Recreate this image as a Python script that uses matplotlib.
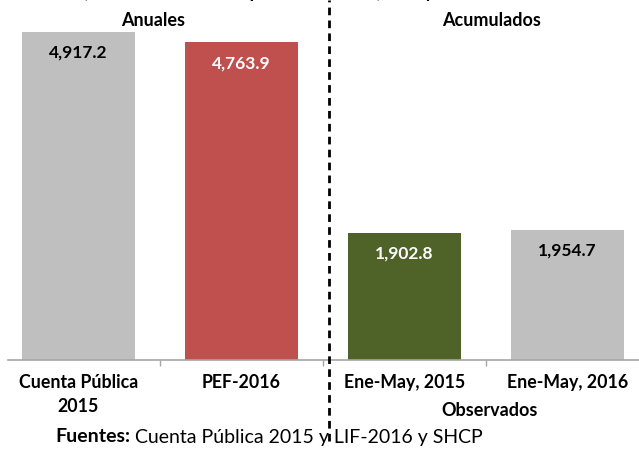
import matplotlib
matplotlib.use("Agg")
import matplotlib.pyplot as plt

plt.rcParams['font.family'] = ['Lato', 'DejaVu Sans']
plt.rcParams['lines.scale_dashes'] = False

categorias = ["Cuenta Pública\n2015", "PEF-2016", "Ene-May, 2015", "Ene-May, 2016"]
valores = [4917.2, 4763.9, 1902.8, 1954.7]
colores = ["#BFBFBF", "#C0504D", "#4F6228", "#BFBFBF"]
color_texto = ["black", "white", "white", "black"]
etiquetas = ["4,917.2", "4,763.9", "1,902.8", "1,954.7"]

W, H = 639, 451
fig = plt.figure(figsize=(W / 100, H / 100), dpi=100)
ax = fig.add_axes([8 / W, 1 - 360 / H, (W - 8) / W, 360 / H])

x = range(len(valores))
ax.bar(x, valores, width=0.69, color=colores, zorder=2)

# etiquetas dentro de las barras
for i, v in enumerate(valores):
    ax.annotate(etiquetas[i], (i, v), xytext=(0, -15), textcoords="offset points",
                ha="center", va="center", fontsize=12.5, fontweight="bold",
                color=color_texto[i])

ax.set_xlim(-0.4325, 3.439)
ax.set_ylim(0, 5397)

for s in ["top", "right", "left"]:
    ax.spines[s].set_visible(False)
ax.spines["bottom"].set_color("#A6A6A6")
ax.spines["bottom"].set_linewidth(1.2)
ax.set_yticks([])

ax.set_xticks(list(x))
ax.set_xticklabels(categorias, fontsize=12.8, fontweight="bold")
for lbl in ax.get_xticklabels():
    lbl.set_linespacing(1.5)
ax.tick_params(axis="x", which="major", length=0, pad=10)
ax.set_xticks([0.5, 1.5, 2.5], minor=True)
ax.tick_params(axis="x", which="minor", length=4, width=1, color="#A6A6A6", direction="out")

# linea divisoria
ax.plot([1.54, 1.54], [-0.225, 1.0], transform=ax.get_xaxis_transform(),
        color="black", lw=2, linestyle=(0, (5.5, 3.8)), clip_on=False, zorder=3)

fig.text(153 / W, 1 - 21 / H, "Anuales", ha="center", va="center",
         fontsize=13, fontweight="bold")
fig.text(492 / W, 1 - 21 / H, "Acumulados", ha="center", va="center",
         fontsize=13, fontweight="bold")
fig.text(490 / W, 1 - 411 / H, "Observados", ha="center", va="center",
         fontsize=13, fontweight="bold")

# titulo recortado en la parte superior
fig.text(83 / W, 1 + 1.5 / H, "(Miles de millones de pesos corrientes) 2016p/",
         ha="left", va="baseline", fontsize=12.5, fontweight="bold")

t1 = fig.text(55 / W, 1 - 437 / H, "Fuentes:", ha="left", va="center",
              fontsize=14, fontweight="bold")
ax.annotate(" Cuenta Pública 2015 y LIF-2016 y SHCP", xy=(1, 0), xycoords=t1,
            ha="left", va="bottom", fontsize=14)

fig.savefig("out.png", dpi=100)
